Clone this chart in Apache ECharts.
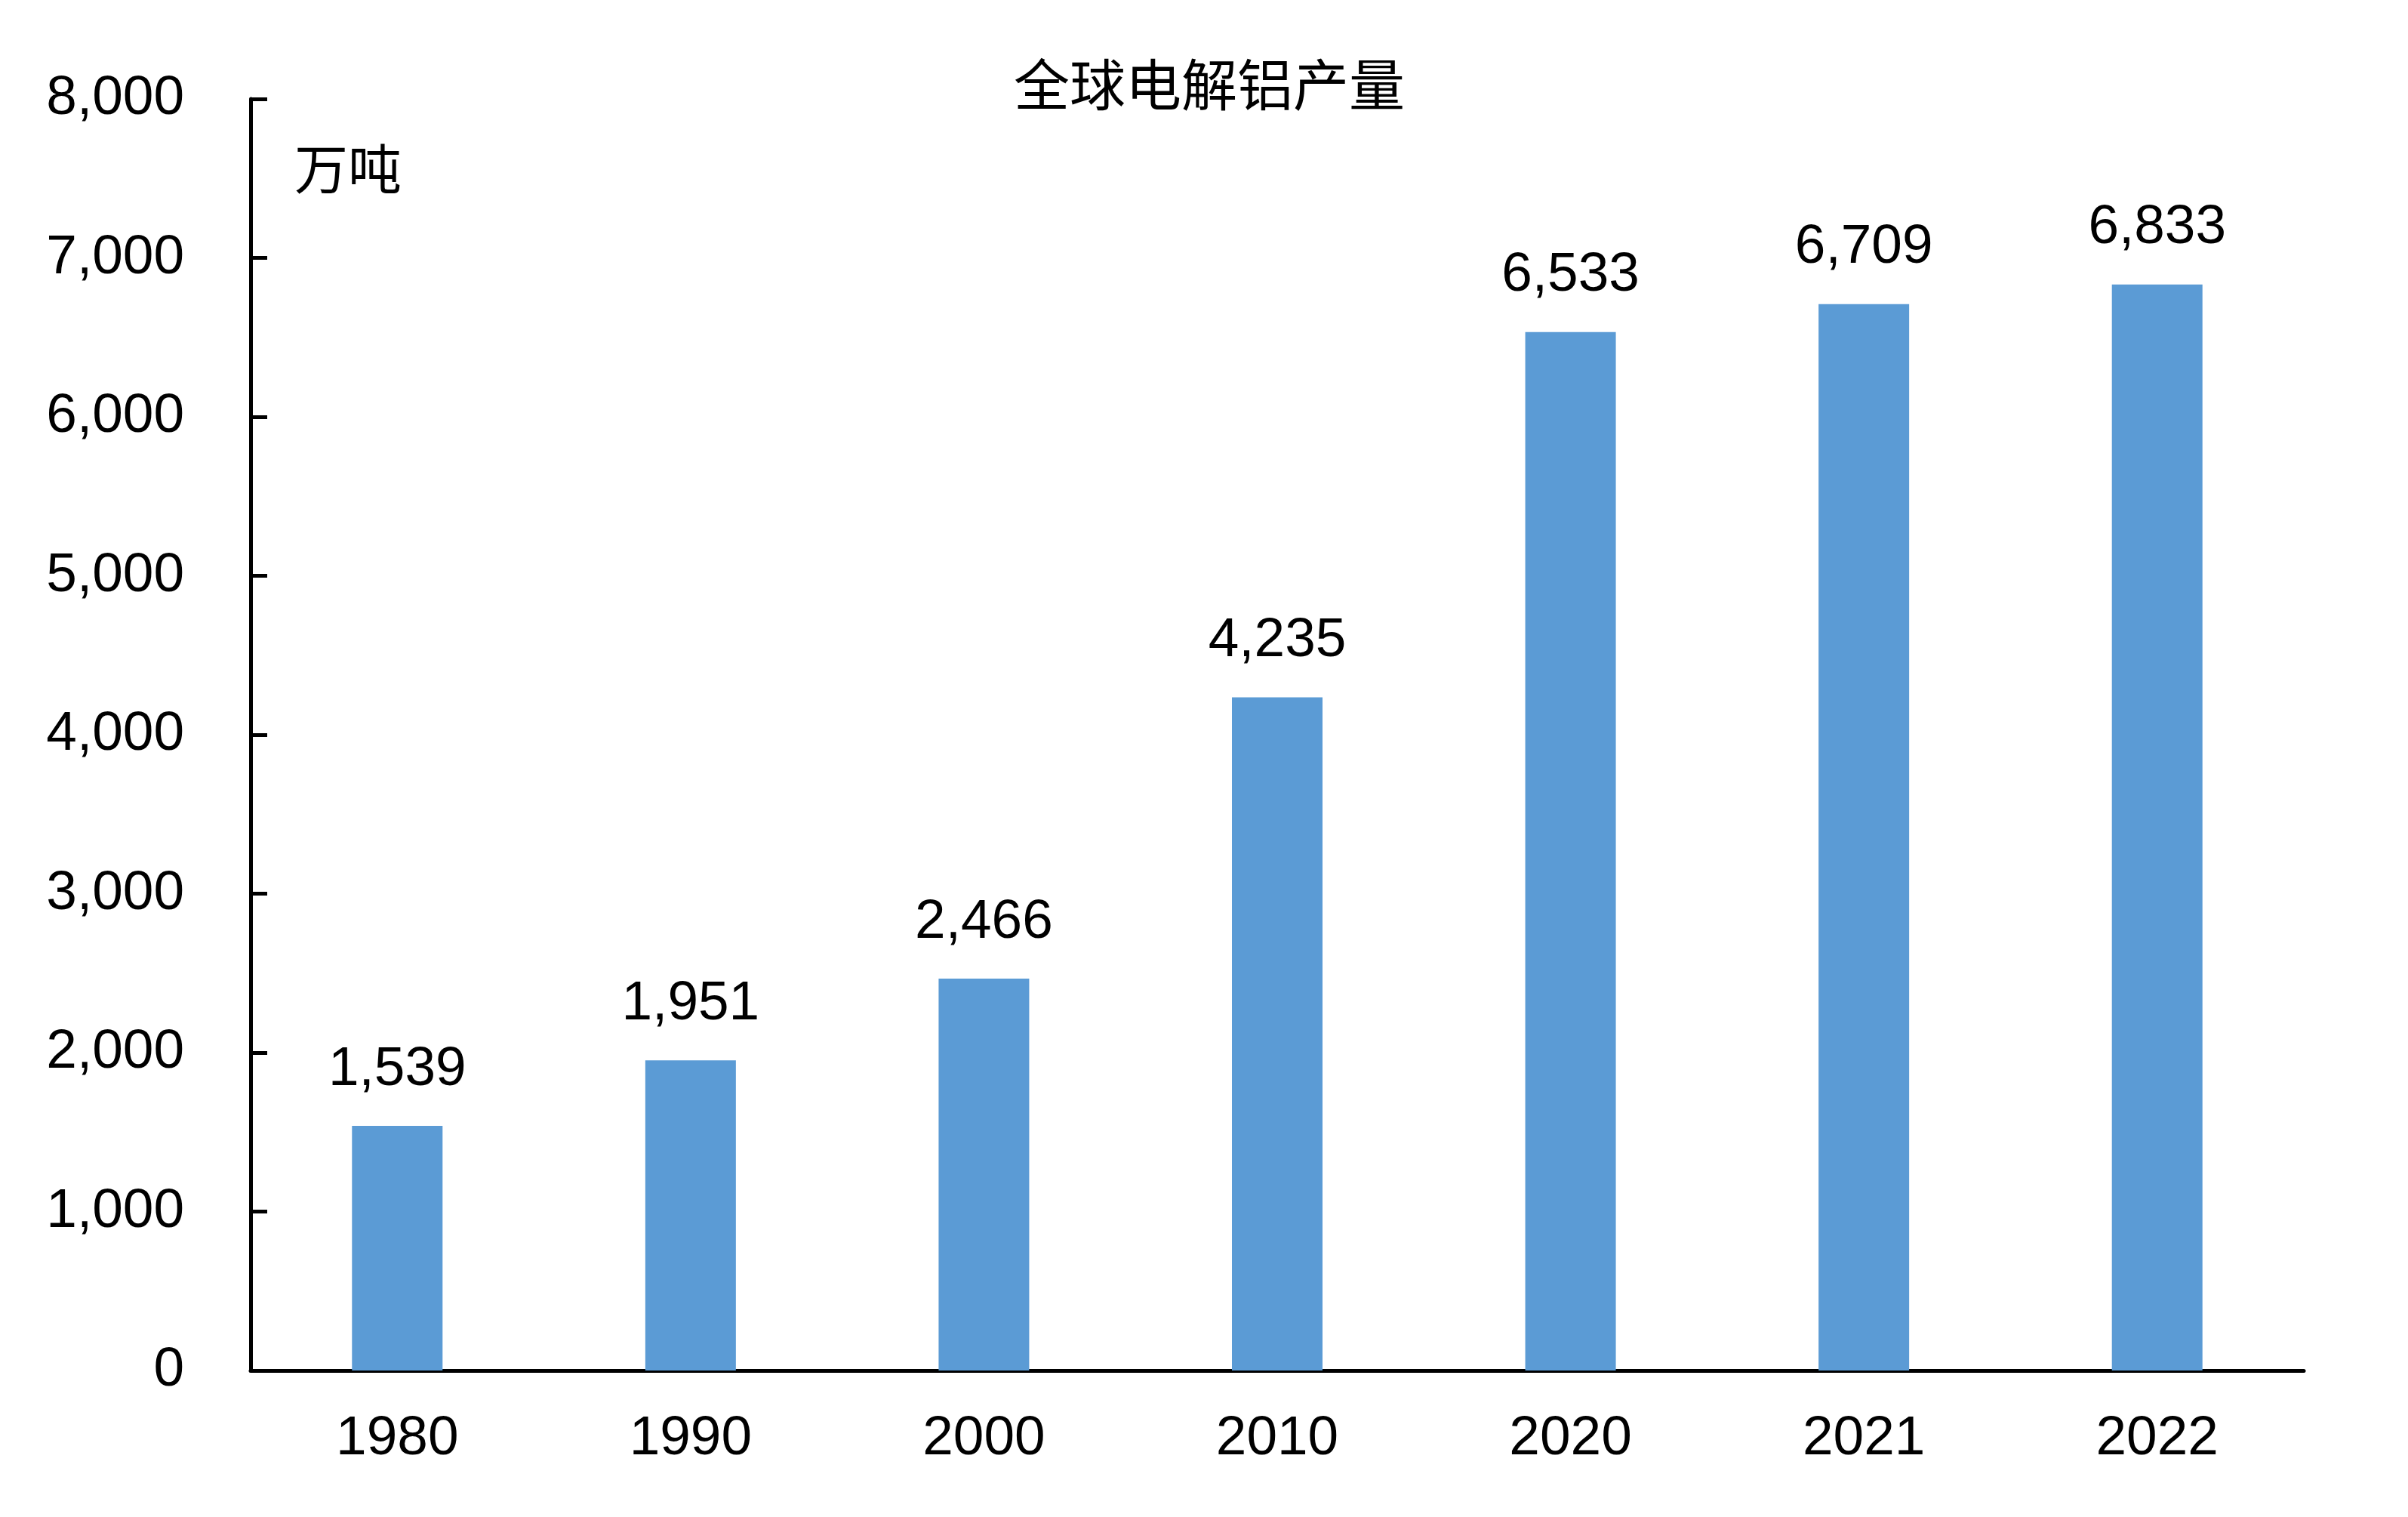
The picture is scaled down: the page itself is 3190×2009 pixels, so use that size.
<!DOCTYPE html>
<html>
<head>
<meta charset="utf-8">
<script src="https://cdn.jsdelivr.net/npm/echarts@6/dist/echarts.min.js"></script>
<style>
html,body{margin:0;padding:0;background:#fff;}
#chart{width:3190px;height:2009px;}
</style>
</head>
<body>
<div id="chart"></div>
<script>
const titleText = '全球电解铝产量';
const unitText = '万吨';
const categories = ['1980', '1990', '2000', '2010', '2020', '2021', '2022'];
const production = [1539, 1951, 2466, 4235, 6533, 6709, 6833];

const numFont = '"Liberation Sans", Arial, sans-serif';
const cjkFont = '"Noto Sans CJK SC", sans-serif';
const fmt = v => Number(v).toLocaleString('en-US');

const chart = echarts.init(document.getElementById('chart'));
chart.setOption({
  backgroundColor: '#ffffff',
  animation: false,
  title: {
    text: titleText,
    left: 1597,
    textAlign: 'center',
    top: 70,
    textStyle: { fontFamily: cjkFont, fontSize: 74, fontWeight: 'normal', color: '#000' }
  },
  graphic: [{
    type: 'text',
    left: 390,
    top: 188,
    style: { text: unitText, fontFamily: cjkFont, fontSize: 71, fill: '#000' }
  }],
  grid: { left: 332, right: 138, top: 131, bottom: 194, containLabel: false },
  xAxis: {
    type: 'category',
    data: categories,
    boundaryGap: true,
    axisLine: { lineStyle: { color: '#000', width: 5 } },
    axisTick: { show: false },
    axisLabel: { fontFamily: numFont, fontSize: 73, color: '#000', margin: 54 }
  },
  yAxis: {
    type: 'value',
    min: 0,
    max: 8000,
    interval: 1000,
    axisLine: { show: true, lineStyle: { color: '#000', width: 5 } },
    axisTick: { show: true, inside: true, length: 22, lineStyle: { color: '#000', width: 5 } },
    splitLine: { show: false },
    axisLabel: { fontFamily: numFont, fontSize: 73, color: '#000', margin: 88, formatter: v => fmt(v) }
  },
  series: [{
    type: 'bar',
    data: production,
    barWidth: 120,
    itemStyle: { color: '#5B9BD5' },
    label: {
      show: true,
      position: 'top',
      distance: 38,
      fontFamily: numFont,
      fontSize: 73,
      color: '#000',
      formatter: p => fmt(p.value)
    }
  }]
});
</script>
</body>
</html>
